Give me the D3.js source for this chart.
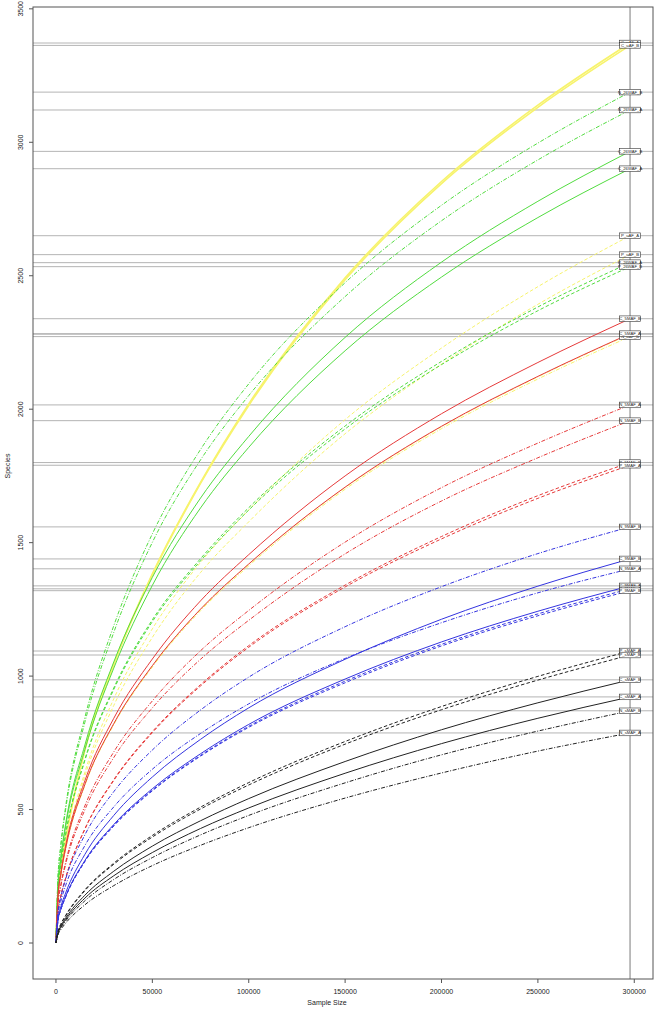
<!DOCTYPE html>
<html>
<head>
<meta charset="utf-8">
<script src="https://cdn.jsdelivr.net/npm/d3@7"></script>
<style>
  html, body { margin: 0; padding: 0; background: #fff; }
  svg text { font-family: "Liberation Sans", Arial, sans-serif; fill: #222; }
</style>
</head>
<body>
<div id="chart"></div>
<script>
// rarefaction curves, values
const sampleSizes = [0, 1000, 2500, 5000, 15000, 30000, 50000, 75000, 100000, 150000, 200000, 250000, 297800];
const rareDepth = 297800;

const uAF_C_A  = [0, 182, 279, 388, 725, 1045, 1383, 1726, 2020, 2492, 2853, 3139, 3372];
const uAF_C_B  = [0, 182, 279, 387, 723, 1043, 1379, 1722, 2014, 2485, 2845, 3131, 3363];
const uAF_P_A  = [0, 169, 259, 360, 640, 915, 1177, 1426, 1622, 1961, 2229, 2459, 2650];
const uAF_P_B  = [0, 165, 252, 351, 625, 890, 1145, 1388, 1578, 1908, 2169, 2393, 2579];
const uAF_N_A  = [0, 166, 254, 353, 593, 821, 1038, 1250, 1419, 1706, 1934, 2121, 2281];
const uAF_N_B  = [0, 165, 253, 352, 591, 818, 1034, 1245, 1413, 1700, 1927, 2113, 2272];

const w26_N_B  = [0, 240, 367, 510, 845, 1189, 1533, 1849, 2095, 2474, 2764, 2997, 3188];
const w26_N_A  = [0, 235, 359, 499, 827, 1164, 1501, 1810, 2051, 2422, 2706, 2934, 3121];
const w26_C_B  = [0, 209, 320, 445, 742, 1053, 1370, 1667, 1898, 2269, 2551, 2779, 2966];
const w26_C_A  = [0, 204, 313, 435, 725, 1030, 1340, 1630, 1857, 2219, 2495, 2718, 2901];
const w26_P_A  = [0, 192, 294, 408, 688, 956, 1211, 1440, 1631, 1937, 2179, 2383, 2549];
const w26_P_B  = [0, 190, 292, 405, 684, 950, 1204, 1432, 1622, 1926, 2167, 2369, 2534];

const m5_C_B   = [0, 171, 261, 363, 608, 842, 1064, 1282, 1455, 1750, 1983, 2175, 2339];
const m5_C_A   = [0, 166, 255, 354, 594, 822, 1039, 1251, 1420, 1708, 1936, 2123, 2283];
const m5_N_A   = [0, 142, 217, 302, 514, 716, 907, 1095, 1246, 1502, 1706, 1873, 2016];
const m5_N_B   = [0, 138, 212, 294, 499, 695, 881, 1063, 1209, 1458, 1656, 1818, 1957];
const m5_P_B   = [0, 114, 175, 243, 428, 612, 792, 968, 1114, 1341, 1523, 1676, 1800];
const m5_P_A   = [0, 114, 174, 242, 426, 609, 788, 963, 1108, 1334, 1514, 1666, 1790];

const m9_N_B   = [0, 112, 172, 239, 405, 567, 723, 873, 996, 1185, 1335, 1459, 1559];
const m9_C_B   = [0, 88, 135, 187, 332, 478, 622, 763, 881, 1063, 1213, 1337, 1439];
const m9_N_A   = [0, 101, 155, 215, 365, 510, 651, 785, 896, 1066, 1200, 1312, 1402];
const m9_C_A   = [0, 82, 125, 174, 309, 444, 578, 709, 819, 989, 1128, 1243, 1338];
const m9_P_A   = [0, 81, 125, 173, 307, 441, 573, 703, 812, 981, 1119, 1233, 1327];
const m9_P_B   = [0, 81, 124, 172, 305, 438, 570, 700, 808, 975, 1113, 1226, 1320];

const sM_P_A   = [0, 41, 70, 103, 199, 299, 403, 509, 601, 755, 886, 999, 1094];
const sM_P_B   = [0, 40, 69, 101, 196, 295, 397, 502, 592, 745, 874, 985, 1079];
const sM_C_B   = [0, 37, 63, 93, 179, 269, 363, 458, 541, 680, 799, 900, 986];
const sM_C_A   = [0, 35, 59, 87, 168, 252, 339, 429, 506, 636, 747, 842, 922];
const sM_N_B   = [0, 33, 56, 82, 158, 238, 320, 405, 478, 600, 705, 794, 870];
const sM_N_A   = [0, 30, 50, 74, 143, 215, 290, 366, 432, 543, 637, 719, 787];

const yTicks = [0, 500, 1000, 1500, 2000, 2500, 3000, 3500];
const xTicks = [0, 50000, 100000, 150000, 200000, 250000, 300000];

// name, group (colour), site (line type), values
const series = [
  ["C_uAF_A", "uAF", "C", uAF_C_A], ["C_uAF_B", "uAF", "C", uAF_C_B],
  ["P_uAF_A", "uAF", "P", uAF_P_A], ["P_uAF_B", "uAF", "P", uAF_P_B],
  ["N_uAF_A", "uAF", "N", uAF_N_A], ["N_uAF_B", "uAF", "N", uAF_N_B],
  ["N_26WAF_B", "26WAF", "N", w26_N_B], ["N_26WAF_A", "26WAF", "N", w26_N_A],
  ["C_26WAF_B", "26WAF", "C", w26_C_B], ["C_26WAF_A", "26WAF", "C", w26_C_A],
  ["P_26WAF_A", "26WAF", "P", w26_P_A], ["P_26WAF_B", "26WAF", "P", w26_P_B],
  ["C_5MAF_B", "5MAF", "C", m5_C_B], ["C_5MAF_A", "5MAF", "C", m5_C_A],
  ["N_5MAF_A", "5MAF", "N", m5_N_A], ["N_5MAF_B", "5MAF", "N", m5_N_B],
  ["P_5MAF_B", "5MAF", "P", m5_P_B], ["P_5MAF_A", "5MAF", "P", m5_P_A],
  ["N_9MAF_B", "9MAF", "N", m9_N_B], ["C_9MAF_B", "9MAF", "C", m9_C_B],
  ["N_9MAF_A", "9MAF", "N", m9_N_A], ["C_9MAF_A", "9MAF", "C", m9_C_A],
  ["P_9MAF_A", "9MAF", "P", m9_P_A], ["P_9MAF_B", "9MAF", "P", m9_P_B],
  ["P_sMAF_A", "sMAF", "P", sM_P_A], ["P_sMAF_B", "sMAF", "P", sM_P_B],
  ["C_sMAF_B", "sMAF", "C", sM_C_B], ["C_sMAF_A", "sMAF", "C", sM_C_A],
  ["N_sMAF_B", "sMAF", "N", sM_N_B], ["N_sMAF_A", "sMAF", "N", sM_N_A]
].map(([name, grp, site, vals]) => ({ name, grp, site, vals }));

const colour = { uAF: "#f7f36c", "26WAF": "#52dc40", "5MAF": "#e63a3a", "9MAF": "#3434e0", sMAF: "#222" };
const dash = { C: null, P: "3.5,2.2", N: "4,1.6,1,1.6" };

const W = 654, H = 1014;
const box = { l: 33, r: 653, t: 7, b: 979 };
const svg = d3.select("#chart").append("svg").attr("width", W).attr("height", H);

// R style 4% axis expansion
const xMax = rareDepth, yMax = d3.max(series, s => d3.max(s.vals));
const x = d3.scaleLinear().domain([-0.04 * xMax, 1.04 * xMax]).range([box.l, box.r]);
const y = d3.scaleLinear().domain([-0.04 * yMax, 1.04 * yMax]).range([box.b, box.t]);

const finals = series.map(s => s.vals[s.vals.length - 1]);

// horizontal guides at each rarefied richness
svg.append("g").selectAll("line").data(finals).join("line")
  .attr("x1", box.l).attr("x2", box.r)
  .attr("y1", d => y(d)).attr("y2", d => y(d))
  .attr("stroke", "#b4b4b4").attr("stroke-width", 1);

svg.append("line")
  .attr("x1", x(rareDepth)).attr("x2", x(rareDepth))
  .attr("y1", box.t).attr("y2", box.b)
  .attr("stroke", "#7a7a7a").attr("stroke-width", 1);

const line = d3.line()
  .x((d, i) => x(sampleSizes[i]))
  .y(d => y(d))
  .curve(d3.curveMonotoneX);

svg.append("g").selectAll("path").data(series).join("path")
  .attr("d", d => line(d.vals))
  .attr("fill", "none")
  .attr("stroke", d => colour[d.grp])
  .attr("stroke-width", d => d.grp === "uAF" && d.site === "C" ? 1.6 : 1)
  .attr("stroke-dasharray", d => dash[d.site]);

// boxed labels at the rarefaction depth
const lab = svg.append("g").selectAll("g").data(series).join("g")
  .attr("transform", d => `translate(${x(rareDepth)},${y(d.vals[d.vals.length - 1])})`);
lab.append("rect")
  .attr("x", -10.5).attr("y", -2.8).attr("width", 21).attr("height", 5.6)
  .attr("fill", "#fff").attr("stroke", "#333").attr("stroke-width", 0.6);
lab.append("text")
  .attr("text-anchor", "middle").attr("dy", "0.35em")
  .attr("font-size", 4.2)
  .text(d => d.name);

// frame and axes
svg.append("rect").attr("x", box.l).attr("y", box.t)
  .attr("width", box.r - box.l).attr("height", box.b - box.t)
  .attr("fill", "none").attr("stroke", "#555").attr("stroke-width", 1);

const ya = svg.append("g").selectAll("g").data(yTicks).join("g")
  .attr("transform", d => `translate(${box.l},${y(d)})`);
ya.append("line").attr("x1", -4).attr("x2", 0).attr("stroke", "#555");
ya.append("text")
  .attr("transform", "translate(-10,0) rotate(-90)")
  .attr("text-anchor", "middle").attr("font-size", 7)
  .text(d => d);

const xa = svg.append("g").selectAll("g").data(xTicks).join("g")
  .attr("transform", d => `translate(${x(d)},${box.b})`);
xa.append("line").attr("y1", 0).attr("y2", 4).attr("stroke", "#555");
xa.append("text")
  .attr("y", 15).attr("text-anchor", "middle").attr("font-size", 7)
  .text(d => d);

svg.append("text").attr("x", 327).attr("y", 1005)
  .attr("text-anchor", "middle").attr("font-size", 7).text("Sample Size");
svg.append("text")
  .attr("transform", "translate(10,466) rotate(-90)")
  .attr("text-anchor", "middle").attr("font-size", 7).text("Species");
</script>
</body>
</html>
